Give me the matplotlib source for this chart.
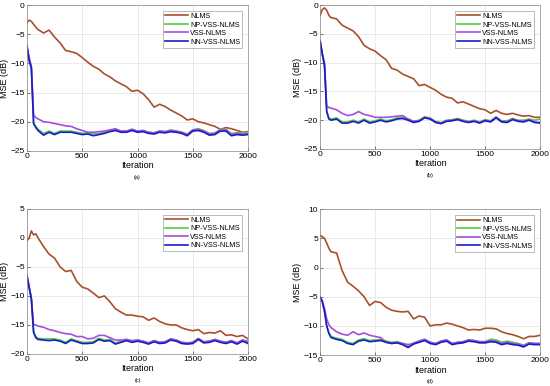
import matplotlib
matplotlib.use("Agg")
import matplotlib.pyplot as plt

plt.rcParams['font.family'] = ['Liberation Sans', 'DejaVu Sans']

# iteration grid the values were read at
iters = [0, 20, 40, 60, 80, 100, 150, 200, 250, 300, 350, 400, 450, 500, 550, 600,
         650, 700, 750, 800, 850, 900, 950, 1000, 1050, 1100, 1150, 1200, 1250, 1300,
         1350, 1400, 1450, 1500, 1550, 1600, 1650, 1700, 1750, 1800, 1850, 1900, 1950, 2000]

labels = ['NLMS', 'NP-VSS-NLMS', 'VSS-NLMS', 'NN-VSS-NLMS']
colors = ['#A8502C', '#4FCF3F', '#A64DE0', '#1A1AC8']

# (a)
a_nlms = [-3, -2.6, -2.8, -3.3, -3.8, -4.2, -4.8, -4.3, -5.5, -6.5, -7.8, -8, -8.3, -9, -9.8, -10.5,
          -11, -11.8, -12.3, -13, -13.5, -14, -14.8, -14.6, -15.2, -16.2, -17.5, -17, -17.4, -18,
          -18.5, -19, -19.7, -19.5, -20, -20.2, -20.5, -20.8, -21.3, -21, -21.2, -21.5, -21.8, -21.7]
a_np = [-7, -9.5, -10.8, -20.2, -20.8, -21.3, -22.0, -21.6, -22.0, -21.6, -21.6, -21.6, -21.8, -22.0, -21.9, -22.1,
        -22.0, -21.8, -21.5, -21.3, -21.6, -21.6, -21.3, -21.6, -21.5, -21.8, -21.9, -21.6, -21.7, -21.4,
        -21.6, -21.8, -22.1, -21.4, -21.2, -21.5, -22.0, -21.9, -21.3, -21.3, -22.0, -21.9, -21.9, -21.8]
a_vss = [-7, -9, -10.5, -18.8, -19.3, -19.5, -20, -20.1, -20.3, -20.5, -20.7, -20.8, -21.2, -21.5, -21.8, -21.8,
         -21.7, -21.6, -21.4, -21.2, -21.6, -21.6, -21.3, -21.6, -21.5, -21.8, -21.9, -21.6, -21.7, -21.5,
         -21.6, -21.8, -22.2, -21.4, -21.3, -21.6, -22.1, -22.0, -21.4, -21.4, -22.2, -22.0, -22.1, -22.0]
a_nn = [-7, -9.5, -10.8, -20.3, -21, -21.5, -22.3, -21.8, -22.2, -21.8, -21.8, -21.8, -22, -22.2, -22.1, -22.4,
        -22.2, -22, -21.7, -21.5, -21.8, -21.8, -21.5, -21.8, -21.7, -22, -22.1, -21.8, -21.9, -21.7,
        -21.8, -22, -22.4, -21.6, -21.5, -21.8, -22.3, -22.2, -21.6, -21.6, -22.4, -22.2, -22.3, -22.2]

# (b)
b_nlms = [-1.8, -0.8, -0.5, -0.9, -1.8, -2.2, -2.4, -3.5, -4, -4.5, -5.5, -7, -7.6, -8, -8.8, -9.5,
          -11, -11.3, -12, -12.4, -12.8, -14, -13.8, -14.3, -14.8, -15.5, -16, -16.2, -17, -16.8,
          -17.2, -17.6, -18, -18.2, -18.8, -18.3, -18.8, -19, -18.8, -19.1, -19.3, -19.2, -19.5, -19.5]
b_np = [-6.2, -8.5, -10.5, -18.4, -19.6, -19.8, -19.6, -20.3, -20.3, -20.0, -20.3, -19.8, -20.3, -20.1, -19.8, -20.1,
        -19.9, -19.6, -19.5, -19.8, -20.2, -20.0, -19.4, -19.6, -20.2, -20.4, -20.0, -19.9, -19.7, -20.0,
        -20.2, -20.0, -20.3, -19.9, -20.1, -19.4, -20.1, -20.1, -19.7, -20.0, -20.0, -19.8, -20.0, -19.8]
b_vss = [-6.2, -8.5, -10, -17.5, -17.8, -17.9, -18.2, -18.8, -19.2, -19, -18.5, -19, -19.2, -19.5, -19.5, -19.5,
         -19.4, -19.3, -19.2, -19.8, -20.2, -20.1, -19.5, -19.7, -20.3, -20.5, -20.1, -20.0, -19.8, -20.1,
         -20.3, -20.1, -20.4, -20.0, -20.2, -19.5, -20.2, -20.3, -19.8, -20.1, -20.2, -19.9, -20.3, -20.4]
b_nn = [-6.2, -8.5, -10.5, -18.5, -19.8, -20, -19.8, -20.5, -20.5, -20.2, -20.5, -20, -20.5, -20.3, -20, -20.3,
        -20.1, -19.8, -19.7, -20, -20.4, -20.2, -19.6, -19.8, -20.4, -20.6, -20.2, -20.1, -19.9, -20.2,
        -20.4, -20.2, -20.5, -20.1, -20.3, -19.6, -20.3, -20.4, -19.9, -20.2, -20.3, -20.0, -20.4, -20.5]

# (c)
c_nlms = [-0.5, 0, 1.2, 0.5, 0.7, 0, -1.5, -2.8, -3.5, -5, -5.8, -5.6, -7.5, -8.5, -8.8, -9.5,
          -10.3, -10, -11, -12.2, -12.8, -13.3, -13.3, -13.5, -13.6, -14.2, -13.8, -14.4, -14.8, -15,
          -15, -15.5, -15.8, -16, -15.8, -16.5, -16.3, -16.4, -16, -16.8, -16.7, -17, -16.8, -17.4]
c_np = [-6.5, -8.5, -10.5, -16.1, -17.0, -17.3, -17.4, -17.4, -17.4, -17.6, -18.0, -17.4, -17.7, -18.0, -18.0, -17.9,
        -17.3, -17.6, -17.5, -18.1, -17.8, -17.5, -17.8, -17.6, -17.8, -18.1, -17.7, -18.0, -17.9, -17.4,
        -17.6, -18.0, -18.1, -18.0, -17.3, -17.9, -17.8, -17.5, -17.8, -18.0, -17.7, -18.1, -17.6, -18.0]
c_vss = [-6.5, -8.5, -10.5, -15, -15, -15.2, -15.4, -15.8, -16, -16.3, -16.5, -16.6, -17, -17, -17.4, -17.3,
         -16.8, -16.8, -17.2, -17.6, -17.6, -17.5, -17.7, -17.6, -17.8, -18.1, -17.7, -18.0, -17.9, -17.4,
         -17.6, -18.0, -18.1, -18.0, -17.4, -17.9, -17.8, -17.5, -17.8, -18.0, -17.7, -18.1, -17.6, -17.8]
c_nn = [-6.5, -8.5, -10.5, -16.3, -17.2, -17.5, -17.6, -17.7, -17.6, -17.8, -18.2, -17.6, -17.9, -18.2, -18.2, -18.1,
        -17.5, -17.8, -17.7, -18.3, -18, -17.7, -18, -17.8, -18, -18.3, -17.9, -18.2, -18.1, -17.6,
        -17.8, -18.2, -18.3, -18.2, -17.5, -18.1, -18.0, -17.7, -18.0, -18.2, -17.9, -18.3, -17.8, -18.2]

# (d)
d_nlms = [5.5, 5.3, 5.0, 4.2, 3.3, 2.7, 2.5, -0.5, -2.5, -3.2, -4, -5, -6.5, -5.8, -6, -6.8,
          -7.3, -7.5, -7.6, -7.5, -8.8, -8.3, -8.5, -10, -9.8, -9.8, -9.5, -9.7, -10, -10.3,
          -10.7, -10.6, -10.7, -10.4, -10.4, -10.5, -11, -11.3, -11.5, -11.8, -12.2, -11.8, -11.8, -11.6]
d_np = [-5, -5.8, -7.5, -10, -11.2, -11.8, -12.1, -12.3, -12.8, -13.0, -12.4, -12.2, -12.5, -12.4, -12.3, -12.6,
        -12.8, -12.7, -13.0, -13.5, -12.9, -12.6, -12.3, -12.8, -13.0, -12.6, -12.4, -13.0, -12.8, -12.7,
        -12.4, -12.5, -12.7, -12.7, -12.3, -12.4, -12.8, -12.6, -12.8, -13.0, -13.3, -12.9, -13.0, -13.0]
d_vss = [-5, -5.8, -7, -8.8, -9.8, -10.3, -11, -11.4, -11.6, -11, -11.5, -11.2, -11.6, -11.8, -12, -12.8,
         -13, -12.8, -13, -13.2, -13.0, -12.6, -12.3, -12.8, -13.0, -12.6, -12.4, -13.0, -12.8, -12.7,
         -12.4, -12.5, -12.7, -12.7, -12.5, -12.6, -13.0, -12.8, -13.0, -13.1, -13.4, -12.9, -13.0, -13.0]
d_nn = [-5, -5.8, -7.5, -10, -11.3, -12, -12.3, -12.5, -13, -13.2, -12.6, -12.4, -12.7, -12.6, -12.5, -12.8,
        -13, -12.9, -13.2, -13.7, -13.1, -12.8, -12.5, -13, -13.2, -12.8, -12.6, -13.2, -13, -12.9,
        -12.6, -12.7, -12.9, -12.9, -12.7, -12.8, -13.2, -13, -13.2, -13.3, -13.6, -13.1, -13.2, -13.2]

panels = [
    ([a_nlms, a_np, a_vss, a_nn], (-25, 0), '(a)', [0.049, 0.609, 0.402, 0.378]),
    ([b_nlms, b_np, b_vss, b_nn], (-25, 0), '(b)', [0.582, 0.614, 0.400, 0.373]),
    ([c_nlms, c_np, c_vss, c_nn], (-20, 5), '(c)', [0.049, 0.083, 0.402, 0.376]),
    ([d_nlms, d_np, d_vss, d_nn], (-15, 10), '(d)', [0.582, 0.080, 0.400, 0.378]),
]

fig = plt.figure(figsize=(5.5, 3.86), dpi=100)

for series, ylim, tag, rect in panels:
    ax = fig.add_axes(rect)
    for ys, lab, col in zip(series, labels, colors):
        ax.plot(iters, ys, color=col, lw=1.2, label=lab)
    ax.set_xlim(0, 2000)
    ax.set_ylim(*ylim)
    ax.set_xticks([0, 500, 1000, 1500, 2000])
    ax.set_yticks(range(ylim[0], ylim[1] + 1, 5))
    ax.grid(True, color='#e6e6e6', lw=0.6)
    ax.set_axisbelow(True)
    ax.tick_params(labelsize=6, length=2, width=0.5, color='#444444', pad=1.5, direction='in')
    for sp in ax.spines.values():
        sp.set_linewidth(0.5)
        sp.set_color('#888888')
    ax.set_xlabel('Iteration', fontsize=6.5, labelpad=1)
    ax.set_ylabel('MSE (dB)', fontsize=6.5, labelpad=1)
    leg = ax.legend(loc='upper right', fontsize=5.2, frameon=True, fancybox=False,
                    edgecolor='#888888', borderpad=0.3, labelspacing=0.2,
                    handlelength=3.2, handletextpad=0.3, borderaxespad=0.8)
    leg.get_frame().set_linewidth(0.5)
    ax.text(0.5, -0.165, tag, transform=ax.transAxes, ha='center', va='top', fontsize=4)

fig.savefig('out.png', dpi=100)
